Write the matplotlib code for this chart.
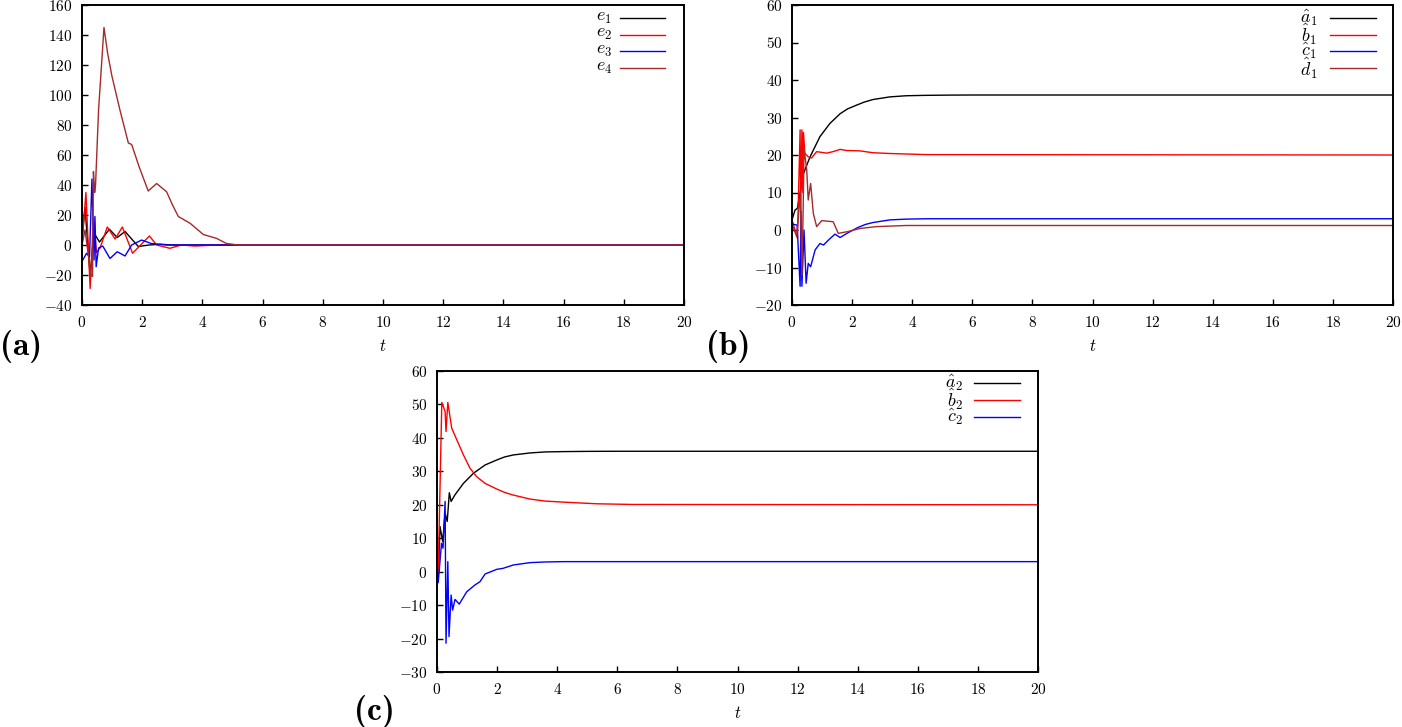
import numpy as np
import matplotlib.pyplot as plt

plt.rcParams['font.family'] = 'cmr10'
plt.rcParams['mathtext.fontset'] = 'cm'
plt.rcParams['axes.formatter.use_mathtext'] = True
plt.rcParams['axes.unicode_minus'] = True

# ---- panel (a): errors
t_e1 = [0, 0.1, 0.27, 0.4, 0.58, 0.91, 1.17, 1.43, 1.87, 2.23, 2.6, 3.0, 20]
e1 = [5, 25, -20, 8, 2, 10.5, 5, 9, -1, 0, 0.5, 0, 0]
t_e2 = [0, 0.13, 0.27, 0.38, 0.48, 0.6, 0.84, 1.1, 1.34, 1.68, 2.24, 2.48, 2.92, 3.3, 3.75, 4.5, 20]
e2 = [0, 35, -29, 18, -5, -2, 12, 4, 12, -5.5, 6, 0, -2.2, 0, -0.7, 0, 0]
t_e3 = [0, 0.15, 0.25, 0.33, 0.4, 0.43, 0.47, 0.55, 0.69, 0.93, 1.17, 1.43, 1.65, 1.98, 2.3, 2.8, 20]
e3 = [-11, -5.5, -8, 44, -10, 19, -14.5, -2, -0.7, -9, -4.5, -7.3, 0, 3.3, 1, 0, 0]
t_e4 = [0, 0.1, 0.2, 0.3, 0.35, 0.38, 0.42, 0.45, 0.55, 0.73, 0.85, 0.99, 1.26, 1.54, 1.65, 1.9,
        2.2, 2.48, 2.81, 3.0, 3.2, 3.59, 4.03, 4.47, 4.8, 5.2, 20]
e4 = [0, 10, -5, -20, -21, 49, 35, 40, 90, 145, 128, 113, 90, 68, 67, 52,
      36, 41, 35.5, 27, 19, 14.5, 7, 4.4, 1, 0, 0]

# ---- panel (b): estimates a1, b1, c1, d1
t_a1 = [0, 0.1, 0.18, 0.38, 0.6, 0.93, 1.26, 1.6, 1.85, 2.15, 2.4, 2.7, 3.26, 3.8, 4.4, 5.2, 6, 20]
a1 = [2.7, 5.3, 5.8, 15, 19.5, 24.9, 28.4, 31, 32.3, 33.3, 34.1, 34.8, 35.5, 35.8, 35.9, 35.97, 36, 36]
t_b1 = [0, 0.18, 0.27, 0.29, 0.33, 0.36, 0.38, 0.43, 0.54, 0.65, 0.82, 1.15, 1.37, 1.6, 1.82, 2.26,
        2.7, 3.26, 4.5, 20]
b1 = [2.7, -2.2, 26.7, 5, 26.7, 10, 26, 20.4, 19.5, 19.2, 20.9, 20.5, 20.9, 21.5, 21.2, 21.1,
      20.6, 20.4, 20.1, 20]
t_c1 = [0, 0.17, 0.27, 0.3, 0.33, 0.4, 0.47, 0.54, 0.62, 0.77, 0.93, 1.05, 1.21, 1.43, 1.6, 1.87,
        2.2, 2.45, 2.7, 3.26, 3.8, 4.5, 20]
c1 = [1.6, 1.3, -15, 5, -15, 0, -14.2, -8.9, -9.8, -5.3, -3.6, -4, -2.7, -1.1, -2, -0.7,
      0.7, 1.5, 2, 2.7, 2.9, 3, 3]
t_d1 = [0, 0.16, 0.28, 0.33, 0.37, 0.4, 0.49, 0.54, 0.62, 0.71, 0.82, 0.99, 1.37, 1.54, 1.87,
        2.26, 2.8, 3.8, 20]
d1 = [1.5, -1.8, 10, -12, 5, 21.8, 16, 8, 12.4, 4.4, 0.9, 2.5, 2.2, -0.9, -0.4,
      0.4, 0.9, 1.2, 1.2]

# ---- panel (c): estimates a2, b2, c2
t_a2 = [0, 0.04, 0.1, 0.19, 0.27, 0.34, 0.41, 0.47, 0.6, 0.88, 1.21, 1.6, 1.99, 2.25, 2.54, 3.1,
        3.6, 4.2, 5, 6, 20]
a2 = [0.5, -2, 13.5, 9, 17.5, 15, 23.6, 21, 23, 26.4, 29.4, 31.9, 33.4, 34.3, 34.9, 35.5,
      35.8, 35.9, 35.97, 36, 36]
t_b2 = [0, 0.04, 0.16, 0.27, 0.3, 0.36, 0.49, 0.66, 0.88, 1.1, 1.32, 1.6, 1.99, 2.25, 2.54, 3.1,
        3.6, 4.2, 5.3, 6.5, 20]
b2 = [0.5, -0.5, 50.6, 47.9, 41.9, 50.6, 42.9, 39.4, 34.9, 30.9, 28.4, 26.4, 24.7, 23.7, 22.9, 21.7,
      21.1, 20.8, 20.3, 20.1, 20]
t_c2 = [0, 0.04, 0.15, 0.2, 0.27, 0.3, 0.36, 0.4, 0.47, 0.52, 0.6, 0.74, 0.99, 1.26, 1.43, 1.6,
        1.99, 2.2, 2.54, 3.1, 3.6, 4.2, 20]
c2 = [-1.5, -3.3, 8.5, 7, 21, -21.4, 3, -19.4, -7, -11.5, -8.3, -9.7, -6, -4, -3, -0.7,
      0.7, 1, 2, 2.7, 2.9, 3, 3]

brown = '#a52a2a'

fig = plt.figure(figsize=(14.02, 7.27), dpi=100)
ax_a = fig.add_axes([82/1402, 1-305/727, 602/1402, 300/727])
ax_b = fig.add_axes([792/1402, 1-305/727, 601/1402, 300/727])
ax_c = fig.add_axes([437/1402, 1-672/727, 601/1402, 301/727])


def style(ax, ylim, yticks):
    ax.set_xlim(0, 20)
    ax.set_ylim(*ylim)
    ax.set_xticks(range(0, 21, 2))
    ax.set_yticks(yticks)
    ax.tick_params(direction='in', length=4, width=1, labelsize=11, pad=7,
                   top=False, right=False)
    for s in ax.spines.values():
        s.set_linewidth(1.4)
    ax.set_xlabel('$t$', fontsize=12, labelpad=6)


def key(ax, x_text, x0, x1, y_top, dy):
    # gnuplot-like key: label right aligned, line sample to its right
    for i, ln in enumerate(ax.get_lines()):
        y = y_top - i * dy
        ax.plot([x0, x1], [y, y], transform=ax.transAxes, color=ln.get_color(),
                lw=ln.get_linewidth(), clip_on=False)
        ax.text(x_text, y, ln.get_label(), transform=ax.transAxes, ha='right',
                va='center', fontsize=13)


lw = 1.0
ax_a.plot(t_e1, e1, color='black', lw=lw, label='$e_1$')
ax_a.plot(t_e2, e2, color='red', lw=lw, label='$e_2$')
ax_a.plot(t_e3, e3, color='blue', lw=lw, label='$e_3$')
ax_a.plot(t_e4, e4, color=brown, lw=lw, label='$e_4$')
style(ax_a, (-40, 160), range(-40, 161, 20))
key(ax_a, 0.880, 0.894, 0.969, 0.957, 0.0557)

ax_b.plot(t_a1, a1, color='black', lw=lw, label=r'$\hat{a}_1$')
ax_b.plot(t_b1, b1, color='red', lw=lw, label=r'$\hat{b}_1$')
ax_b.plot(t_c1, c1, color='blue', lw=lw, label=r'$\hat{c}_1$')
ax_b.plot(t_d1, d1, color=brown, lw=lw, label=r'$\hat{d}_1$')
style(ax_b, (-20, 60), range(-20, 61, 10))
key(ax_b, 0.874, 0.895, 0.972, 0.957, 0.0557)

ax_c.plot(t_a2, a2, color='black', lw=lw, label=r'$\hat{a}_2$')
ax_c.plot(t_b2, b2, color='red', lw=lw, label=r'$\hat{b}_2$')
ax_c.plot(t_c2, c2, color='blue', lw=lw, label=r'$\hat{c}_2$')
style(ax_c, (-30, 60), range(-30, 61, 10))
key(ax_c, 0.875, 0.894, 0.970, 0.960, 0.0560)

fig.text(0/1402, 1-346/727, '(a)', family='cmb10', fontsize=24, va='center', ha='left')
fig.text(706/1402, 1-346/727, '(b)', family='cmb10', fontsize=24, va='center', ha='left')
fig.text(354/1402, 1-712/727, '(c)', family='cmb10', fontsize=24, va='center', ha='left')

fig.savefig('out.png', dpi=100)
